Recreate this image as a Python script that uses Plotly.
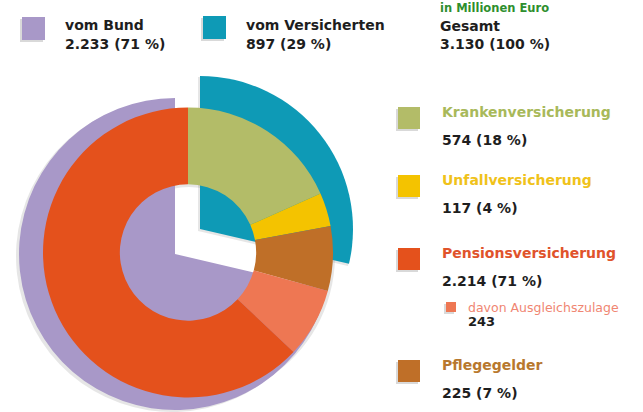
import plotly.graph_objects as go

W, H = 643, 412

# Funding sources (in Millionen Euro)
funding_labels = ["vom Versicherten", "vom Bund"]
funding_values = [897, 2233]
funding_colors = ["#0e9ab6", "#a898c8"]

# Benefit branches
branch_labels = ["Krankenversicherung", "Unfallversicherung", "Pensionsversicherung", "Pflegegelder"]
branch_values = [574, 117, 2214, 225]
branch_colors = ["#b3bc68", "#f4c300", "#e4511c", "#bf6f28"]
branch_text_colors = ["#a8b95a", "#f0c21a", "#e0532b", "#b8782e"]

# Part of the pension branch
supplement_label = "davon Ausgleichszulage"
supplement_value = 243
supplement_color = "#ee7753"

total_label = "Gesamt"
total_value = 3130
unit_label = "in Millionen Euro"


def fmt(v):
    return f"{v:,}".replace(",", ".")


def pct(v):
    return f"{round(100 * v / total_value)} %"


def px(x):
    return x / W


def py(y):
    return 1 - y / H


def dom(cx, cy, r):
    return dict(x=[px(cx - r), px(cx + r)], y=[max(0, py(cy + r)), min(1, py(cy - r))])


fig = go.Figure()
clear = "rgba(0,0,0,0)"
shade = "rgba(60,60,60,0.13)"

# Front ring: benefit branches, pension split into supplement and remainder
ring_labels = [branch_labels[0], branch_labels[1], branch_labels[3], supplement_label, branch_labels[2]]
ring_values = [branch_values[0], branch_values[1], branch_values[3], supplement_value,
               branch_values[2] - supplement_value]
ring_colors = [branch_colors[0], branch_colors[1], branch_colors[3], supplement_color, branch_colors[2]]
ring_center = (188, 252.5, 145)

# Soft drop shadows behind the pieces
for (cx, cy, r), vals, cols, hole in [
    ((172, 257, 157), funding_values, [clear, shade], 0),
    ((198, 231, 154), funding_values, [shade, clear], 0),
    ((ring_center[0] + 1, ring_center[1] + 3, ring_center[2] + 1), ring_values, [shade] * 5, 0.47),
]:
    fig.add_trace(go.Pie(
        values=vals, sort=False, direction="clockwise", rotation=0, hole=hole,
        marker=dict(colors=cols, line=dict(width=0)),
        textinfo="none", hoverinfo="skip", domain=dom(cx, cy, r),
    ))

# Back layer: the two funding slices, shifted apart
back = [
    ((200, 229, 153), [funding_colors[0], clear]),
    ((175, 254, 156), [clear, funding_colors[1]]),
]
for (cx, cy, r), cols in back:
    fig.add_trace(go.Pie(
        values=funding_values, labels=funding_labels, sort=False,
        direction="clockwise", rotation=0,
        marker=dict(colors=cols, line=dict(width=0)),
        textinfo="none", hoverinfo="skip", domain=dom(cx, cy, r),
    ))

fig.add_trace(go.Pie(
    values=ring_values, labels=ring_labels, sort=False,
    direction="clockwise", rotation=0, hole=0.47,
    marker=dict(colors=ring_colors, line=dict(width=0)),
    textinfo="none", hoverinfo="skip", domain=dom(*ring_center),
))

shapes = []
annotations = []
FONT = "DejaVu Sans"


def square(x0, y0, size, color):
    shapes.append(dict(type="rect", xref="paper", yref="paper",
                       x0=px(x0 - 2), x1=px(x0 + size - 2), y0=py(y0 + size + 2), y1=py(y0 + 2),
                       fillcolor="rgba(0,0,0,0.15)", line=dict(width=0)))
    shapes.append(dict(type="rect", xref="paper", yref="paper",
                       x0=px(x0), x1=px(x0 + size), y0=py(y0 + size), y1=py(y0),
                       fillcolor=color, line=dict(width=0)))


def label(x, y, text, color="#1e1e1e", size=14, bold=True):
    annotations.append(dict(xref="paper", yref="paper", x=px(x), y=py(y),
                            xanchor="left", yanchor="middle", showarrow=False,
                            text=f"<b>{text}</b>" if bold else text,
                            font=dict(family=FONT, size=size, color=color)))


# Top legend: funding sources and total
square(22, 17, 23, funding_colors[1])
label(63, 25, funding_labels[1])
label(63, 44, f"{fmt(funding_values[1])} ({pct(funding_values[1])})")
square(203, 16, 23, funding_colors[0])
label(244, 25, funding_labels[0])
label(244, 44, f"{fmt(funding_values[0])} ({pct(funding_values[0])})")
label(438, 8, unit_label, color="#2e8f2e", size=11.5)
label(438, 26, total_label)
label(438, 44, f"{fmt(total_value)} ({pct(total_value)})")

# Right legend: benefit branches
rows = [(107, 0), (175, 1), (248, 2), (360, 3)]
for top, i in rows:
    square(398, top, 22, branch_colors[i])
    label(440, top + 5, branch_labels[i], color=branch_text_colors[i])
    label(440, top + 33, f"{fmt(branch_values[i])} ({pct(branch_values[i])})")

square(446, 302, 10, supplement_color)
label(466, 307, supplement_label, color="#f08672", size=12.5, bold=False)
label(466, 321, fmt(supplement_value), size=13)

fig.update_layout(
    width=W, height=H, margin=dict(l=0, r=0, t=0, b=0),
    paper_bgcolor="white", plot_bgcolor="white",
    showlegend=False, shapes=shapes, annotations=annotations,
)

fig.write_html("out.html")
